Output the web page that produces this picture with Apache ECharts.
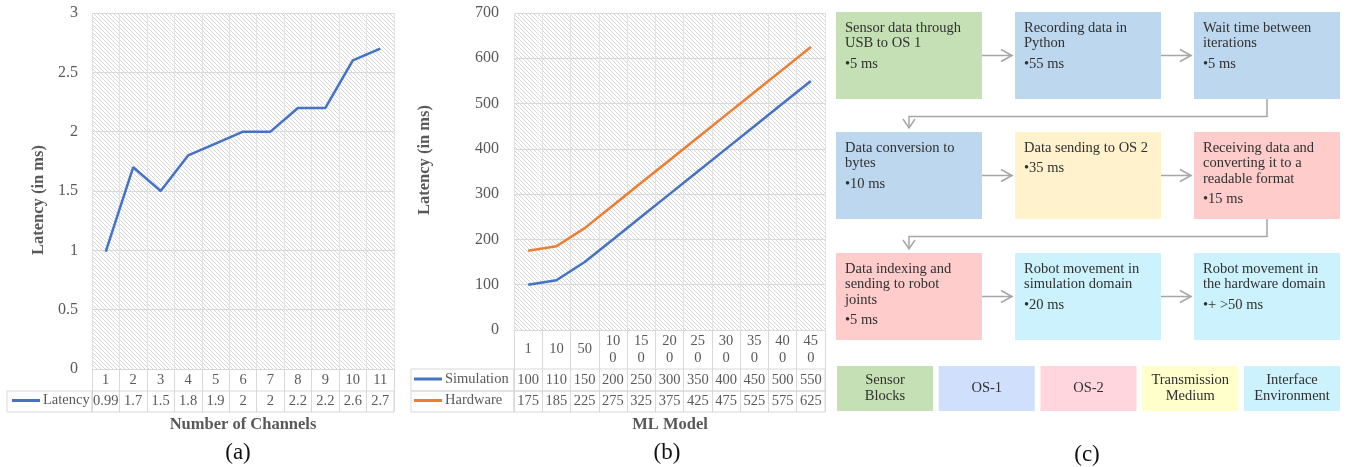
<!DOCTYPE html>
<html><head><meta charset="utf-8">
<script src="https://cdn.jsdelivr.net/npm/echarts@6/dist/echarts.min.js"></script>
<style>html,body{margin:0;padding:0;background:#fff}#c{width:1347px;height:467px}</style>
</head><body><div id="c"></div>
<script>
// ---------------- data ----------------
const channels = ['1','2','3','4','5','6','7','8','9','10','11'];
const latency = [0.99, 1.7, 1.5, 1.8, 1.9, 2, 2, 2.2, 2.2, 2.6, 2.7];
const models = ['1','10','50','100','150','200','250','300','350','400','450'];
const simulation = [100, 110, 150, 200, 250, 300, 350, 400, 450, 500, 550];
const hardware = [175, 185, 225, 275, 325, 375, 425, 475, 525, 575, 625];
const stepTitles = [
  'Sensor data through\nUSB to OS 1', 'Recording data in\nPython', 'Wait time between\niterations',
  'Data conversion to\nbytes', 'Data sending to OS 2', 'Receiving data and\nconverting it to a\nreadable format',
  'Data indexing and\nsending to robot\njoints', 'Robot movement in\nsimulation domain', 'Robot movement in\nthe hardware domain'
];
const stepTimes = ['•5 ms', '•55 ms', '•5 ms', '•10 ms', '•35 ms', '•15 ms', '•5 ms', '•20 ms', '•+ >50 ms'];
const stepGroup = [0, 1, 1, 1, 3, 2, 2, 4, 4];
const groupLabels = ['Sensor\nBlocks', 'OS-1', 'OS-2', 'Transmission\nMedium', 'Interface\nEnvironment'];

// ---------------- styles ----------------
const FONT = 'Liberation Serif';
const GRAY = '#595959';
const LINE = '#d9d9d9';
const boxColors = ['#c5e0b4', '#bdd7ee', '#ffcccc', '#fff2cc', '#ccf3fd'];
const legendColors = ['#c5e0b4', '#d0e0fc', '#ffd6de', '#ffffcc', '#ccf2fd'];

function hatch() {
  const c = document.createElement('canvas'); c.width = 4; c.height = 4;
  const g = c.getContext('2d');
  g.fillStyle = '#ffffff'; g.fillRect(0, 0, 4, 4);
  g.fillStyle = '#d6d6d6';
  for (let i = 0; i < 4; i++) g.fillRect(i, i, 1, 1);
  return { image: c, repeat: 'repeat' };
}
const pat = hatch();

const A = { left: 92, top: 13, width: 302, height: 356, row: 22, row2: 21, legL: 7 };
const B = { left: 514, top: 13, width: 311, height: 317, row: 39, rowS: 22, rowH: 21, legL: 411 };

const txt = { fontFamily: FONT, color: GRAY, fontSize: 14.5 };

const grids = [
  { left: A.left, top: A.top, width: A.width, height: A.height, show: true, backgroundColor: pat, borderWidth: 0, outerBoundsMode: 'none' },
  { left: A.left, top: A.top + A.height + A.row, width: A.width, height: A.row2, show: true, backgroundColor: 'transparent', borderColor: LINE, borderWidth: 1, outerBoundsMode: 'none' },
  { left: B.left, top: B.top, width: B.width, height: B.height, show: true, backgroundColor: pat, borderWidth: 0, outerBoundsMode: 'none' },
  { left: B.left, top: B.top + B.height + B.row, width: B.width, height: B.rowS, show: true, backgroundColor: 'transparent', borderColor: LINE, borderWidth: 1, outerBoundsMode: 'none' },
  { left: B.left, top: B.top + B.height + B.row + B.rowS, width: B.width, height: B.rowH, show: true, backgroundColor: 'transparent', borderColor: LINE, borderWidth: 1, outerBoundsMode: 'none' }
];

function plotX(gi, data, rowH, fmt) {
  return {
    gridIndex: gi, type: 'category', data: data, boundaryGap: true,
    axisLine: { show: true, lineStyle: { color: LINE } },
    axisTick: { show: true, length: rowH, lineStyle: { color: LINE } },
    splitLine: { show: true, lineStyle: { color: '#e2e2e2' } },
    axisLabel: Object.assign({ interval: 0, margin: rowH / 2, verticalAlign: 'middle', lineHeight: 17, formatter: fmt }, txt)
  };
}
function rowX(gi, data, values, rowH) {
  return {
    gridIndex: gi, type: 'category', data: data, boundaryGap: true, position: 'top',
    axisLine: { show: false }, axisTick: { show: false },
    splitLine: { show: true, lineStyle: { color: LINE } },
    axisLabel: Object.assign({ inside: true, interval: 0, margin: rowH / 2, verticalAlign: 'middle', formatter: (v, i) => String(values[i]) }, txt)
  };
}
function plotY(gi, max, interval, margin) {
  return {
    gridIndex: gi, type: 'value', min: 0, max: max, interval: interval,
    axisLine: { show: false }, axisTick: { show: false },
    splitLine: { show: true, lineStyle: { color: LINE } },
    axisLabel: Object.assign({ margin: margin }, txt, { fontSize: 16 })
  };
}
const hiddenY = gi => ({ gridIndex: gi, type: 'value', show: false, min: 0, max: 1, splitLine: { show: false } });

const wrap2 = v => v.length > 2 ? v.slice(0, 2) + '\n' + v.slice(2) : v;

// ---------- graphic: panel decorations ----------
const G = [];
function cell(x, y, w, h) {
  G.push({ type: 'rect', shape: { x: x, y: y, width: w, height: h }, style: { fill: null, stroke: LINE, lineWidth: 1 }, z: 10 });
}
cell(A.legL, A.top + A.height + A.row, A.left - A.legL, A.row2);
cell(B.legL, B.top + B.height + B.row, B.left - B.legL, B.rowS);
cell(B.legL, B.top + B.height + B.row + B.rowS, B.left - B.legL, B.rowH);

function label(text, x, y, size, bold, color, rot) {
  G.push({ type: 'text', x: x, y: y, rotation: rot || 0,
    style: { text: text, fontFamily: FONT, fontSize: size, fontWeight: bold ? 'bold' : 'normal', fill: color, align: 'center', verticalAlign: 'middle' } });
}
label('Latency (in ms)', 39, 200, 16.5, true, GRAY, Math.PI / 2);
label('Latency (in ms)', 425, 160, 16.5, true, GRAY, Math.PI / 2);
label('Number of Channels', 243, 425, 16.5, true, GRAY);
label('ML Model', 670, 425, 16.5, true, GRAY);
label('(a)', 238, 453, 23, false, '#111');
label('(b)', 667, 453, 23, false, '#111');
label('(c)', 1087, 455, 23, false, '#111');

// flow chart
const colX = [836, 1015, 1194], rowY = [12, 132, 253], BW = 146, BH = 87;
const TXT_C = '#303030';
stepTitles.forEach((t, i) => {
  const x = colX[i % 3], y = rowY[Math.floor(i / 3)];
  G.push({ type: 'rect', shape: { x: x, y: y, width: BW, height: BH }, style: { fill: boxColors[stepGroup[i]] } });
  const n = t.split('\n').length;
  G.push({ type: 'text', x: x + 9, y: y + 8.25, style: { text: t, fontFamily: FONT, fontSize: 14.5, lineHeight: 15.5, fill: TXT_C, align: 'left', verticalAlign: 'top' } });
  G.push({ type: 'text', x: x + 9, y: y + 8.25 + (n - 1) * 15.5 + 20.5, style: { text: stepTimes[i], fontFamily: FONT, fontSize: 14.5, lineHeight: 15.5, fill: TXT_C, align: 'left', verticalAlign: 'top' } });
});
const AR = '#a6a6a6';
function pl(points) { G.push({ type: 'polyline', shape: { points: points }, style: { stroke: AR, lineWidth: 1.5, fill: null } }); }
rowY.forEach(y => {
  const cy = y + BH / 2;
  for (let c = 0; c < 2; c++) {
    const x1 = colX[c] + BW, x2 = colX[c + 1] - 3;
    pl([[x1, cy], [x2, cy]]);
    pl([[x2 - 11, cy - 6], [x2, cy], [x2 - 11, cy + 6]]);
  }
});
for (let r = 0; r < 2; r++) {
  const xs = colX[2] + BW / 2, xe = colX[0] + BW / 2;
  const y0 = rowY[r] + BH, ym = y0 + 17.5, ye = rowY[r + 1] - 4;
  pl([[xs, y0], [xs, ym], [xe, ym], [xe, ye]]);
  pl([[xe - 6, ye - 9], [xe, ye], [xe + 6, ye - 9]]);
}
groupLabels.forEach((t, i) => {
  const x = 837 + i * 101.75, y = 366, w = 96, h = 45;
  G.push({ type: 'rect', shape: { x: x, y: y, width: w, height: h }, style: { fill: legendColors[i] } });
  G.push({ type: 'text', x: x + w / 2, y: y + h / 2, style: { text: t, fontFamily: FONT, fontSize: 14.5, lineHeight: 16, fill: TXT_C, align: 'center', verticalAlign: 'middle' } });
});

const legendBase = { orient: 'horizontal', icon: 'rect', itemWidth: 28, itemHeight: 3, padding: 0, textStyle: Object.assign({ padding: [0, 0, 0, -2] }, txt), selectedMode: false };

const option = {
  animation: false,
  backgroundColor: '#ffffff',
  grid: grids,
  xAxis: [
    plotX(0, channels, A.row),
    rowX(1, channels, latency, A.row2),
    plotX(2, models, B.row, wrap2),
    rowX(3, models, simulation, B.rowS),
    rowX(4, models, hardware, B.rowH)
  ],
  yAxis: [plotY(0, 3, 0.5, 14), hiddenY(1), plotY(2, 700, 100, 15), hiddenY(3), hiddenY(4)],
  legend: [
    Object.assign({}, legendBase, { data: ['Latency'], left: 12, top: A.top + A.height + A.row + 2 }),
    Object.assign({}, legendBase, { data: ['Simulation'], left: 414, top: B.top + B.height + B.row + 2.5 }),
    Object.assign({}, legendBase, { data: ['Hardware'], left: 414, top: B.top + B.height + B.row + B.rowS + 2 })
  ],
  series: [
    { name: 'Latency', type: 'line', xAxisIndex: 0, yAxisIndex: 0, data: latency, showSymbol: false, symbol: 'none', lineStyle: { width: 2.5, color: '#4472c4' }, itemStyle: { color: '#4472c4' } },
    { name: 'Simulation', type: 'line', xAxisIndex: 2, yAxisIndex: 2, data: simulation, showSymbol: false, symbol: 'none', lineStyle: { width: 2.5, color: '#4472c4' }, itemStyle: { color: '#4472c4' } },
    { name: 'Hardware', type: 'line', xAxisIndex: 2, yAxisIndex: 2, data: hardware, showSymbol: false, symbol: 'none', lineStyle: { width: 2.5, color: '#ed7d31' }, itemStyle: { color: '#ed7d31' } }
  ],
  graphic: { elements: G }
};
const chart = echarts.init(document.getElementById('c'), null, { renderer: 'canvas' });
chart.setOption(option);
</script></body></html>
